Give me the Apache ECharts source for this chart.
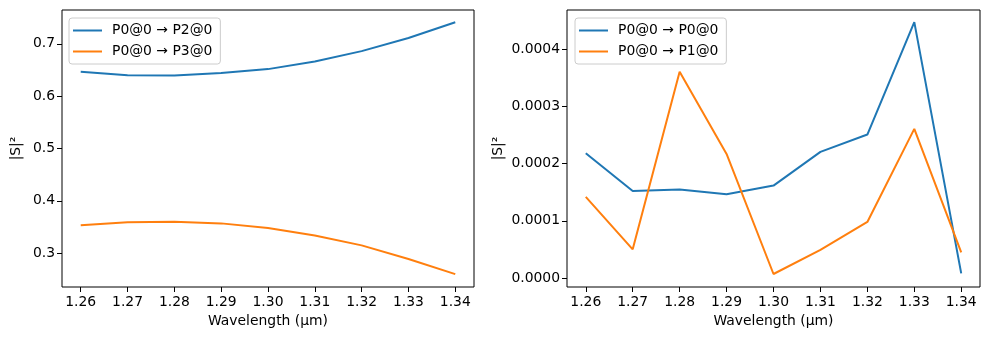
<!DOCTYPE html>
<html>
<head>
<meta charset="utf-8">
<script src="https://cdn.jsdelivr.net/npm/echarts@6/dist/echarts.min.js"></script>
<style>
  html, body { margin: 0; padding: 0; background: #fff; }
  #main { width: 989px; height: 340px; }
</style>
</head>
<body>
<div id="main"></div>
<script>
// wavelengths (um)
var wavelengths = [1.26, 1.27, 1.28, 1.29, 1.30, 1.31, 1.32, 1.33, 1.34];

// left panel: transmission
var s20 = [0.6465, 0.640, 0.6395, 0.644, 0.6516, 0.666, 0.686, 0.711, 0.741];
var s30 = [0.3535, 0.359, 0.360, 0.357, 0.348, 0.334, 0.315, 0.289, 0.260];

// right panel: reflection / crosstalk
var s00 = [0.000218, 0.000152, 0.0001545, 0.0001464, 0.0001615, 0.0002204, 0.0002507, 0.0004472, 0.0000082];
var s10 = [0.0001417, 0.0000501, 0.0003603, 0.0002169, 0.0000070, 0.000049, 0.000098, 0.0002606, 0.0000449];

var xTicks = [1.26, 1.27, 1.28, 1.29, 1.30, 1.31, 1.32, 1.33, 1.34];
var yTicksLeft = [0.3, 0.4, 0.5, 0.6, 0.7];
var yTicksRight = [0, 0.0001, 0.0002, 0.0003, 0.0004];

var names = ['P0@0 → P2@0', 'P0@0 → P3@0', 'P0@0 → P0@0', 'P0@0 → P1@0'];
var blue = '#1f77b4', orange = '#ff7f0e';
var font = 'DejaVu Sans';
var fs = 13.9;

function pairs(ys) {
  return wavelengths.map(function (x, i) { return [x, ys[i]]; });
}

function xAxisFor(idx) {
  return {
    type: 'value', gridIndex: idx, min: 1.256, max: 1.344,
    name: 'Wavelength (µm)', nameLocation: 'middle', nameGap: 27,
    nameTextStyle: { fontFamily: font, fontSize: fs, color: '#000' },
    axisLine: { show: false, onZero: false },
    splitLine: { show: false },
    axisTick: { show: true, customValues: xTicks, length: 5, lineStyle: { color: '#000' } },
    axisLabel: { customValues: xTicks, fontFamily: font, fontSize: fs, color: '#000', margin: 8,
      formatter: function (v) { return v.toFixed(2); } }
  };
}

function yAxisFor(idx, min, max, ticks, dec, gap) {
  return {
    type: 'value', gridIndex: idx, min: min, max: max,
    name: '|S|²', nameLocation: 'middle', nameGap: gap,
    nameTextStyle: { fontFamily: font, fontSize: fs, color: '#000' },
    axisLine: { show: false, onZero: false },
    splitLine: { show: false },
    axisTick: { show: true, customValues: ticks, length: 5, lineStyle: { color: '#000' } },
    axisLabel: { customValues: ticks, fontFamily: font, fontSize: fs, color: '#000', margin: 7,
      formatter: function (v) { return v.toFixed(dec); } }
  };
}

function legendFor(left, data) {
  return {
    orient: 'vertical', left: left, top: 18,
    data: data,
    icon: 'rect', itemWidth: 29, itemHeight: 2, itemGap: 6,
    padding: [5, 8, 5, 4],
    backgroundColor: 'rgba(255,255,255,0.8)',
    borderColor: '#cccccc', borderWidth: 1, borderRadius: 3,
    textStyle: { fontFamily: font, fontSize: fs, color: '#000', lineHeight: 15, padding: [0, 0, 0, 5] }
  };
}

function lineSeries(name, ys, color, idx) {
  return {
    name: name, type: 'line', data: pairs(ys),
    xAxisIndex: idx, yAxisIndex: idx,
    showSymbol: false, animation: false,
    itemStyle: { color: color },
    lineStyle: { color: color, width: 2 }
  };
}

var chart = echarts.init(document.getElementById('main'), null, { renderer: 'canvas' });
chart.setOption({
  animation: false,
  backgroundColor: '#fff',
  grid: [
    { left: 62, top: 10, width: 412, height: 277, show: true, borderColor: '#000', borderWidth: 1, backgroundColor: 'transparent' },
    { left: 567, top: 10, width: 413, height: 277, show: true, borderColor: '#000', borderWidth: 1, backgroundColor: 'transparent' }
  ],
  xAxis: [xAxisFor(0), xAxisFor(1)],
  yAxis: [
    yAxisFor(0, 0.2355, 0.7645, yTicksLeft, 1, 39),
    yAxisFor(1, -0.0000157, 0.0004683, yTicksRight, 4, 62)
  ],
  legend: [
    legendFor(69, [names[0], names[1]]),
    legendFor(575, [names[2], names[3]])
  ],
  series: [
    lineSeries(names[0], s20, blue, 0),
    lineSeries(names[1], s30, orange, 0),
    lineSeries(names[2], s00, blue, 1),
    lineSeries(names[3], s10, orange, 1)
  ]
});
</script>
</body>
</html>
